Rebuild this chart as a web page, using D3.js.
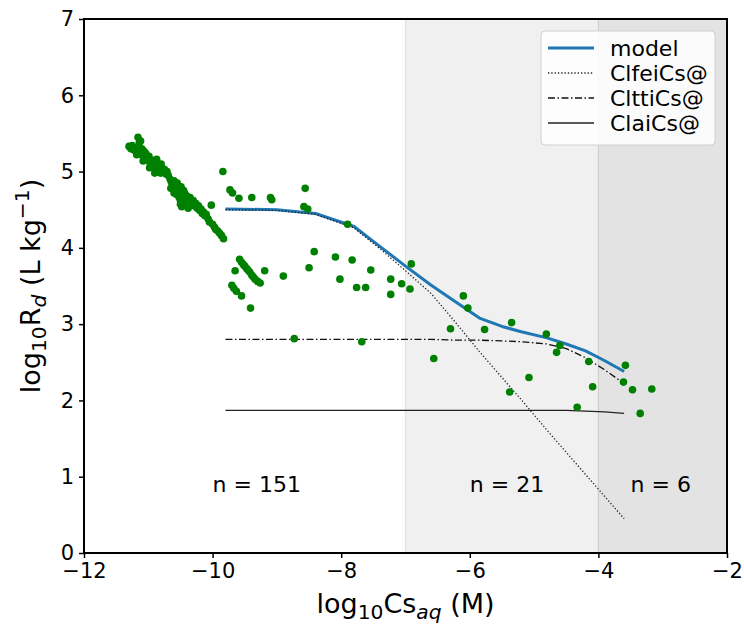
<!DOCTYPE html>
<meta charset="utf-8">
<head>
    <script src="https://d3js.org/d3.v7.min.js"></script>
    <style>
        body {
            margin: 0;
            background: #fff;
        }

        text {
            font-family: "DejaVu Sans", sans-serif;
            fill: #000;
        }

        .tick text {
            font-size: 21px;
        }

        .tick line {
            stroke: #000;
            stroke-width: 1.5px;
        }

        .label {
            font-size: 27px;
        }

        .legend text {
            font-size: 22px;
        }

        .count {
            font-size: 22px;
        }
    </style>
    <title>log Rd vs log Cs</title>
</head>
<body>
<svg id="chart" width="744" height="624"></svg>

<script>

    // modelled curves, sampled on a common grid of log10 Cs_aq
    var calcX = [-9.8, -9.0, -8.4, -7.8, -7.4, -7.0, -6.6, -6.2, -5.85, -5.5, -5.2, -4.8, -4.5, -4.2, -3.9, -3.6];
    var model = [4.51, 4.50, 4.45, 4.28, 4.02, 3.76, 3.51, 3.28, 3.08, 2.97, 2.90, 2.82, 2.74, 2.65, 2.52, 2.38];
    var clfei = [4.50, 4.49, 4.44, 4.26, 3.99, 3.70, 3.40, 3.00, 2.64, 2.30, 2.01, 1.61, 1.32, 1.03, 0.74, 0.45];
    var cltti = [2.80, 2.80, 2.80, 2.80, 2.80, 2.80, 2.80, 2.79, 2.79, 2.78, 2.77, 2.74, 2.68, 2.56, 2.40, 2.22];
    var clai = [1.87, 1.87, 1.87, 1.87, 1.87, 1.87, 1.87, 1.87, 1.87, 1.87, 1.87, 1.87, 1.87, 1.86, 1.85, 1.83];

    // measured points [log10 Cs_aq, log10 Rd]
    var obsBand = [
        [-11.30, 5.33], [-11.27, 5.30], [-11.25, 5.34], [-11.22, 5.28], [-11.20, 5.31], [-11.16, 5.45],
        [-11.14, 5.38], [-11.13, 5.26], [-11.11, 5.22], [-11.10, 5.30], [-11.07, 5.27], [-11.05, 5.18],
        [-11.04, 5.24], [-11.02, 5.15], [-10.99, 5.20], [-10.97, 5.11], [-10.95, 5.15], [-10.93, 5.08],
        [-10.91, 5.13], [-10.89, 5.05], [-10.87, 5.16], [-10.85, 5.02], [-10.83, 5.08], [-10.81, 4.98],
        [-10.79, 5.04], [-10.77, 4.99], [-10.75, 5.03], [-10.73, 4.97], [-10.71, 5.00], [-10.69, 4.95],
        [-11.18, 5.22], [-11.08, 5.14], [-10.98, 5.05], [-10.90, 4.98], [-10.80, 5.10], [-11.12, 5.40],
        [-10.66, 4.90], [-10.64, 4.86], [-10.62, 4.80], [-10.60, 4.88], [-10.58, 4.83], [-10.57, 4.75],
        [-10.56, 4.70], [-10.55, 4.85], [-10.53, 4.79], [-10.52, 4.66], [-10.51, 4.73], [-10.50, 4.62],
        [-10.49, 4.80], [-10.47, 4.68], [-10.46, 4.59], [-10.45, 4.75], [-10.43, 4.71], [-10.42, 4.63],
        [-10.40, 4.68], [-10.38, 4.64], [-10.36, 4.60], [-10.35, 4.66], [-10.48, 4.54], [-10.50, 4.57],
        [-10.65, 4.78], [-10.60, 4.72], [-10.44, 4.56], [-10.38, 4.52],
        [-10.32, 4.58], [-10.30, 4.62], [-10.28, 4.55], [-10.26, 4.58], [-10.24, 4.52], [-10.22, 4.55],
        [-10.20, 4.49], [-10.18, 4.51], [-10.16, 4.45], [-10.14, 4.47], [-10.12, 4.42], [-10.10, 4.44],
        [-10.07, 4.38], [-10.05, 4.34], [-10.02, 4.56], [-10.00, 4.31], [-9.97, 4.27], [-9.95, 4.24],
        [-9.92, 4.22], [-9.89, 4.19], [-9.86, 4.16], [-9.83, 4.12]
    ];
    var obsLow = [
        [-9.84, 5.00], [-9.73, 4.76], [-9.69, 4.72], [-9.59, 4.65], [-9.39, 4.66], [-9.10, 4.66],
        [-9.08, 4.63], [-8.56, 4.78], [-8.58, 4.54], [-8.52, 4.51], [-7.90, 4.31], [-8.42, 3.95],
        [-8.50, 3.74], [-8.09, 3.88], [-7.83, 3.84], [-8.02, 3.59], [-7.54, 3.71], [-7.76, 3.48],
        [-7.62, 3.48], [-7.23, 3.59], [-7.06, 3.53], [-7.23, 3.39], [-8.73, 2.81], [-7.68, 2.77],
        [-9.58, 3.85], [-9.55, 3.81], [-9.52, 3.78], [-9.50, 3.76], [-9.47, 3.73], [-9.45, 3.71],
        [-9.42, 3.68], [-9.39, 3.64], [-9.37, 3.62], [-9.34, 3.59], [-9.30, 3.56], [-9.26, 3.54],
        [-9.65, 3.70], [-9.19, 3.70], [-8.90, 3.63], [-9.70, 3.51], [-9.67, 3.47], [-9.63, 3.43],
        [-9.55, 3.37], [-9.41, 3.21]
    ];
    var obsMid = [
        [-6.93, 3.46], [-6.91, 3.79], [-6.10, 3.37], [-6.03, 3.21], [-6.30, 2.94], [-6.56, 2.55],
        [-5.77, 2.93], [-5.35, 3.02], [-5.08, 2.30], [-5.38, 2.11], [-4.81, 2.87], [-4.60, 2.72],
        [-4.65, 2.63], [-4.33, 1.91], [-4.15, 2.51], [-4.09, 2.18]
    ];
    var obsHigh = [[-3.58, 2.46], [-3.61, 2.24], [-3.47, 2.14], [-3.17, 2.15], [-3.35, 1.83]];

    var spans = [[-7, -4, "#f0f0f0", "#e2e2e2"], [-4, -2, "#e3e3e3", "#cfcfcf"]];
    var counts = [[-10, "n = 151"], [-6, "n = 21"], [-3.5, "n = 6"]];
    var xTicks = [-12, -10, -8, -6, -4, -2];
    var yTicks = [0, 1, 2, 3, 4, 5, 6, 7];

    var series = [
        {name: "model", values: model, color: "#1f77b4", width: 3, dash: null},
        {name: "ClfeiCs@", values: clfei, color: "#222", width: 1.3, dash: "1.3,2"},
        {name: "ClttiCs@", values: cltti, color: "#111", width: 1.3, dash: "7,2.5,1.5,2.5"},
        {name: "ClaiCs@", values: clai, color: "#222", width: 1.4, dash: null}
    ];

    var svg = d3.select("#chart"),
        margin = {top: 19, right: 17, bottom: 71, left: 84},
        width = +svg.attr("width") - margin.left - margin.right,
        height = +svg.attr("height") - margin.top - margin.bottom,
        g = svg.append("g").attr("transform", "translate(" + margin.left + "," + margin.top + ")");

    var x = d3.scaleLinear().domain([-12, -2]).range([0, width]);
    var y = d3.scaleLinear().domain([0, 7]).range([height, 0]);

    // shaded concentration ranges
    spans.forEach(function (s) {
        g.append("rect")
            .attr("x", x(s[0]))
            .attr("y", 0)
            .attr("width", x(s[1]) - x(s[0]))
            .attr("height", height)
            .style("fill", s[2]);
        g.append("line")
            .attr("x1", x(s[0])).attr("x2", x(s[0]))
            .attr("y1", 0).attr("y2", height)
            .style("stroke", s[3])
            .style("stroke-width", 1.2);
    });

    var line = d3.line()
        .x(function (d, i) { return x(calcX[i]); })
        .y(function (d) { return y(d); });

    series.forEach(function (s) {
        g.append("path")
            .datum(s.values)
            .attr("d", line)
            .style("fill", "none")
            .style("stroke", s.color)
            .style("stroke-width", s.width)
            .style("stroke-dasharray", s.dash)
            .style("stroke-linejoin", "round");
    });

    g.selectAll("circle.obs")
        .data(obsBand.concat(obsLow, obsMid, obsHigh))
        .enter().append("circle")
        .attr("class", "obs")
        .attr("cx", function (d) { return x(d[0]); })
        .attr("cy", function (d) { return y(d[1]); })
        .attr("r", 3.8)
        .style("fill", "#008000");

    g.selectAll("text.count")
        .data(counts)
        .enter().append("text")
        .attr("class", "count")
        .attr("x", function (d) { return x(d[0]); })
        .attr("y", y(0.8))
        .text(function (d) { return d[1]; });

    // axes
    var xAxis = g.append("g")
        .attr("transform", "translate(0," + height + ")")
        .call(d3.axisBottom(x).tickValues(xTicks).tickSize(5).tickPadding(5).tickSizeOuter(0));
    var yAxis = g.append("g")
        .call(d3.axisLeft(y).tickValues(yTicks).tickFormat(d3.format("d")).tickSize(5).tickPadding(5).tickSizeOuter(0));
    xAxis.select(".domain").remove();
    yAxis.select(".domain").remove();
    xAxis.selectAll(".tick text").attr("font-family", null).attr("font-size", null);
    yAxis.selectAll(".tick text").attr("font-family", null).attr("font-size", null);

    g.append("rect")
        .attr("width", width)
        .attr("height", height)
        .style("fill", "none")
        .style("stroke", "#000")
        .style("stroke-width", 2);

    // axis labels
    var xl = svg.append("text")
        .attr("class", "label")
        .attr("x", margin.left + width / 2)
        .attr("y", 613)
        .attr("text-anchor", "middle");
    xl.append("tspan").text("log");
    xl.append("tspan").attr("dy", 6).style("font-size", "75%").text("10");
    xl.append("tspan").attr("dy", -6).text("Cs");
    xl.append("tspan").attr("dy", 6).style("font-size", "75%").style("font-style", "italic").text("aq");
    xl.append("tspan").attr("dy", -6).text(" (M)");

    var yl = svg.append("text")
        .attr("class", "label")
        .attr("transform", "translate(40," + (margin.top + height / 2) + ") rotate(-90)")
        .attr("text-anchor", "middle");
    yl.append("tspan").text("log");
    yl.append("tspan").attr("dy", 6).style("font-size", "75%").text("10");
    yl.append("tspan").attr("dy", -6).text("R");
    yl.append("tspan").attr("dy", 6).style("font-size", "75%").style("font-style", "italic").text("d");
    yl.append("tspan").attr("dy", -6).text(" (L kg");
    yl.append("tspan").attr("dy", -11).style("font-size", "75%").text("\u22121");
    yl.append("tspan").attr("dy", 11).text(")");

    // legend
    var legend = svg.append("g").attr("class", "legend");
    legend.append("rect")
        .attr("x", 541).attr("y", 31)
        .attr("width", 174).attr("height", 114)
        .attr("rx", 4)
        .style("fill", "#fff").style("fill-opacity", 0.85)
        .style("stroke", "#d0d0d0");

    var row = legend.selectAll("g.row")
        .data(series)
        .enter().append("g")
        .attr("class", "row")
        .attr("transform", function (d, i) { return "translate(0," + (48 + i * 25) + ")"; });
    row.append("line")
        .attr("x1", 548).attr("x2", 594)
        .style("stroke", function (d) { return d.color; })
        .style("stroke-width", function (d) { return d.width; })
        .style("stroke-dasharray", function (d) { return d.dash; });
    row.append("text")
        .attr("x", 610)
        .attr("y", 7.5)
        .text(function (d) { return d.name; });

</script>
</body>
